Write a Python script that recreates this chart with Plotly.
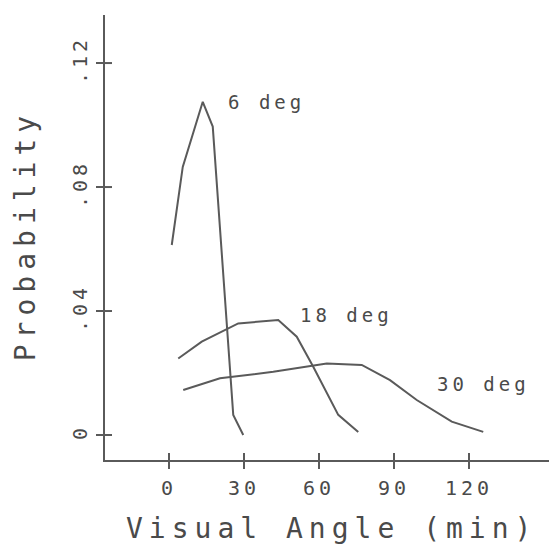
import plotly.graph_objects as go

# ---- data ----
series_names = ["6 deg", "18 deg", "30 deg"]
x_6deg = [1.1, 5.5, 13.5, 17.5, 25.7, 29.7]
y_6deg = [0.0613, 0.0865, 0.1075, 0.0995, 0.0065, 0.0]
x_18deg = [3.7, 13.1, 27.7, 43.7, 51.1, 57.7, 67.7, 75.7]
y_18deg = [0.0247, 0.0301, 0.0360, 0.0371, 0.0317, 0.0220, 0.0065, 0.0010]
x_30deg = [5.7, 20.4, 41.7, 63.1, 77.1, 88.4, 99.1, 113.1, 125.7]
y_30deg = [0.0145, 0.0183, 0.0204, 0.0231, 0.0226, 0.0177, 0.0113, 0.0043, 0.0010]

x_tickvals = [0, 30, 60, 90, 120]
x_ticktext = ["0", "30", "60", "90", "120"]
y_tickvals = [0, 0.04, 0.08, 0.12]
y_ticktext = ["0", ".04", ".08", ".12"]

# label centre points (data coords) for the curve labels
label_x = [38.8, 70.8, 125.6]
label_y = [0.1074, 0.0387, 0.0165]

X_RANGE = [-25.6, 152]
Y_RANGE = [-0.00806, 0.1355]

INK = "#5a5a5a"
TXT = "#4a4a4a"
FONT = "DejaVu Sans Mono"
TICKLEN = 7
W, H = 549, 552
M = dict(l=105, r=0, t=15, b=92)

fig = go.Figure()
for xs, ys in [(x_6deg, y_6deg), (x_18deg, y_18deg), (x_30deg, y_30deg)]:
    fig.add_trace(go.Scatter(x=xs, y=ys, mode="lines",
                             line=dict(color=INK, width=2),
                             showlegend=False, hoverinfo="skip"))

# inner half of the crossing tick marks (outer half = the axis' own ticks),
# drawn as a line trace built from the tick arrays
x_per_px = (X_RANGE[1] - X_RANGE[0]) / (W - M["l"] - M["r"])
y_per_px = (Y_RANGE[1] - Y_RANGE[0]) / (H - M["t"] - M["b"])
tx, ty = [], []
for v in x_tickvals:
    tx += [v, v, None]
    ty += [Y_RANGE[0], Y_RANGE[0] + TICKLEN * y_per_px, None]
for v in y_tickvals:
    tx += [X_RANGE[0], X_RANGE[0] + TICKLEN * x_per_px, None]
    ty += [v, v, None]
fig.add_trace(go.Scatter(x=tx, y=ty, mode="lines", cliponaxis=False,
                         line=dict(color=INK, width=2),
                         showlegend=False, hoverinfo="skip"))

for name, lx, ly in zip(series_names, label_x, label_y):
    fig.add_annotation(x=lx, y=ly, xref="x", yref="y", text=name,
                       showarrow=False, xanchor="center", yanchor="middle",
                       font=dict(family=FONT, size=19, color=TXT))

fig.add_annotation(x=0.511, y=-0.153, xref="paper", yref="paper",
                   text="Visual Angle (min)", showarrow=False,
                   xanchor="center", yanchor="middle",
                   font=dict(family=FONT, size=28, color=TXT))
fig.add_annotation(x=-0.18, y=0.503, xref="paper", yref="paper",
                   text="Probability", showarrow=False, textangle=-90,
                   xanchor="center", yanchor="middle",
                   font=dict(family=FONT, size=28, color=TXT))

axis_common = dict(showgrid=False, zeroline=False, ticklen=TICKLEN,
                   tickwidth=2, tickcolor=INK, ticks="outside",
                   showline=True, linecolor=INK, linewidth=2)
fig.update_layout(
    width=W, height=H, margin=M,
    paper_bgcolor="white", plot_bgcolor="white",
    xaxis=dict(range=X_RANGE, tickmode="array", tickvals=x_tickvals,
               ticktext=x_ticktext,
               tickfont=dict(family=FONT, size=20, color=TXT),
               ticklabelstandoff=2, **axis_common),
    yaxis=dict(range=Y_RANGE, tickmode="array", tickvals=y_tickvals,
               ticktext=y_ticktext, tickangle=-90,
               tickfont=dict(family=FONT, size=20, color=TXT),
               ticklabelstandoff=1, **axis_common),
)

post = """
document.body.style.margin = '0px';
var gd = document.getElementById('{plot_id}');
function spaceText(){
  gd.querySelectorAll('text').forEach(function(t){
    var fs = parseFloat(t.style.fontSize) || 0;
    var ls = fs >= 24 ? 6 : (fs >= 19 ? 4 : 0);
    t.style.letterSpacing = ls + 'px';
  });
}
spaceText();
gd.on('plotly_afterplot', spaceText);
"""

fig.write_html("out.html", post_script=post, config={"displayModeBar": False})
